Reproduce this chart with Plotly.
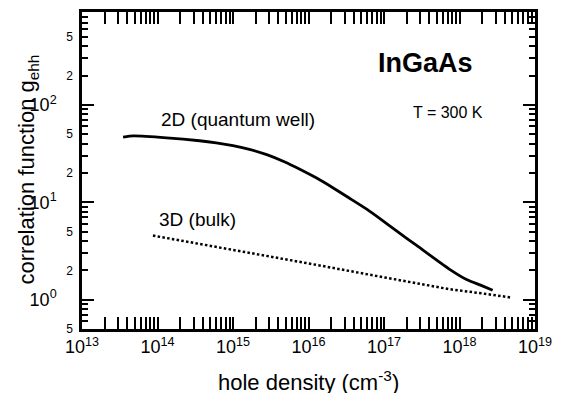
import plotly.graph_objects as go

# ---------------- data ----------------
density_2d = [3.5e13, 4.8e13, 1.32e14, 3.6e14, 6.0e14, 1.0e15, 1.7e15, 2.8e15,
              4.7e15, 7.8e15, 1.3e16, 2.1e16, 3.5e16, 5.9e16, 9.3e16, 1.45e17,
              2.7e17, 7.4e17, 1.26e18, 1.9e18, 2.75e18]
g_2d = [46.6, 48.0, 45.9, 42.8, 40.7, 38.1, 34.7, 30.8,
        26.2, 21.7, 17.6, 14.1, 11.0, 8.5, 6.6, 5.1,
        3.6, 2.05, 1.6, 1.41, 1.25]

density_3d = [8.7e13, 3.0e14, 1.86e15, 1.3e16, 9.8e16, 7.4e17, 2.0e18, 4.9e18]
g_3d = [4.55, 3.84, 2.98, 2.27, 1.70, 1.28, 1.16, 1.05]

x_decades = [13, 14, 15, 16, 17, 18, 19]
y_decades = [0, 1, 2]
y_minor_labels = [0.5, 2, 5, 20, 50, 200, 500]
y_minor_text = ["5", "2", "5", "2", "5", "2", "5"]

label_2d = "2D (quantum well)"
label_3d = "3D (bulk)"
material = "InGaAs"
temperature = "T = 300 K"
x_title = "hole density (cm<sup>-3</sup>)"
y_title = "correlation function g<sub>ehh</sub>"

# ---------------- layout geometry ----------------
W, H = 564, 393
ML, MR, MT, MB = 82, 29, 9, 64
PW, PH = W - ML - MR, H - MT - MB
FONT = "Liberation Sans, Arial, Helvetica, sans-serif"


def px(xp):
    return (xp - ML) / PW


def py(yp):
    return (H - MB - yp) / PH


x_range = [13, 19]
y_range = [-0.30103, 2.953]

x_minor = [m * 10 ** e for e in range(13, 19) for m in range(2, 10)]
y_minor = [m * 10.0 ** e for e in range(-1, 3) for m in range(2, 10)]

fig = go.Figure()
fig.add_trace(go.Scatter(x=density_2d, y=g_2d, mode="lines",
                         line=dict(color="black", width=2.8, shape="spline", smoothing=0.6),
                         showlegend=False, hoverinfo="skip"))
fig.add_trace(go.Scatter(x=density_3d, y=g_3d, mode="lines",
                         line=dict(color="black", width=2.5, dash="2.5px,2.3px"),
                         showlegend=False, hoverinfo="skip"))
# invisible trace to activate the secondary (minor-label) y axis
fig.add_trace(go.Scatter(x=[1e13], y=[1], yaxis="y2", mode="markers",
                         marker=dict(opacity=0), showlegend=False, hoverinfo="skip"))

fig.update_layout(
    width=W, height=H,
    margin=dict(l=ML, r=MR, t=MT, b=MB, pad=0),
    paper_bgcolor="white", plot_bgcolor="white",
    font=dict(family=FONT, color="black"),
    xaxis=dict(
        type="log", range=x_range,
        tickmode="array",
        tickvals=[10 ** d for d in x_decades],
        ticktext=[f"10<sup>{d}</sup>" for d in x_decades],
        tickfont=dict(size=18, family=FONT),
        ticks="inside", ticklen=12, tickwidth=2, tickcolor="black",
        minor=dict(tickmode="array", tickvals=x_minor, ticks="inside",
                   ticklen=5, tickwidth=1.8, tickcolor="black", showgrid=False),
        showline=True, linewidth=2.5, linecolor="black", mirror="allticks",
        showgrid=False, zeroline=False, ticklabelstandoff=0,
    ),
    yaxis=dict(
        type="log", range=y_range,
        tickmode="array",
        tickvals=[10 ** d for d in y_decades],
        ticktext=[f"10<sup>{d}</sup>" for d in y_decades],
        tickfont=dict(size=18, family=FONT),
        ticks="inside", ticklen=12, tickwidth=2, tickcolor="black",
        minor=dict(tickmode="array", tickvals=y_minor, ticks="inside",
                   ticklen=6, tickwidth=1.8, tickcolor="black", showgrid=False),
        showline=True, linewidth=2.5, linecolor="black", mirror="allticks",
        showgrid=False, zeroline=False, ticklabelstandoff=19,
    ),
    yaxis2=dict(
        type="log", range=y_range, overlaying="y", side="left", anchor="x",
        tickmode="array", tickvals=y_minor_labels, ticktext=y_minor_text,
        tickfont=dict(size=12, family=FONT),
        ticks="", showline=False, showgrid=False, zeroline=False,
        ticklabelstandoff=8,
    ),
)

annotations = [
    dict(text=f"<b>{material}</b>", x=px(425), y=py(60), font=dict(size=27)),
    dict(text=temperature, x=px(448), y=py(110), font=dict(size=16)),
    dict(text=label_2d, x=px(238), y=py(118), font=dict(size=19)),
    dict(text=label_3d, x=px(197), y=py(218), font=dict(size=19)),
    dict(text=x_title, x=px(308.5), y=py(381), font=dict(size=22)),
    dict(text=y_title, x=px(28), y=py(168), font=dict(size=22), textangle=-90),
]
for a in annotations:
    a.update(xref="paper", yref="paper", xanchor="center", yanchor="middle",
             showarrow=False)
    a["font"].update(family=FONT, color="black")
fig.update_layout(annotations=annotations)

fig.write_html("out.html", config={"displayModeBar": False},
               post_script="document.body.style.margin='0';document.body.style.padding='0';")
